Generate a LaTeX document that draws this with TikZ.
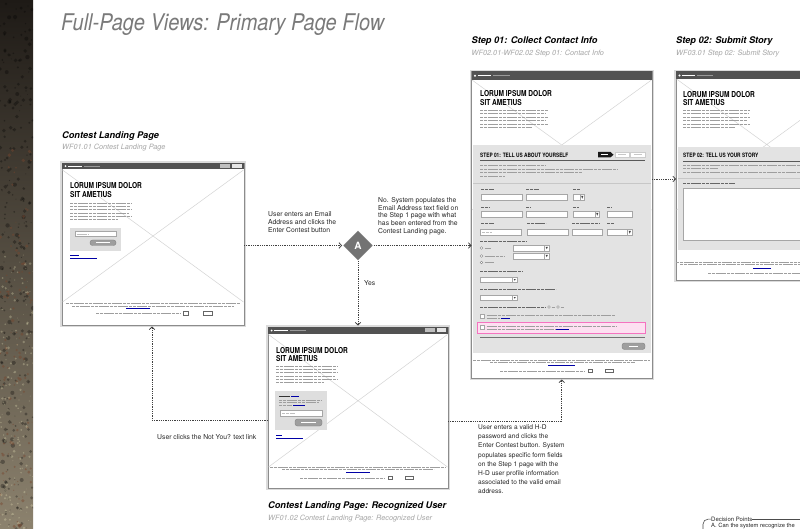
\documentclass[tikz,border=0pt]{standalone}
\usepackage{fontspec}
\setmainfont{TeX Gyre Heros}
\newfontfamily\condfont[FakeStretch=0.8]{TeX Gyre Heros}
\newfontfamily\titlefont[FakeStretch=0.87]{TeX Gyre Heros}
\usetikzlibrary{arrows.meta,shapes.geometric}
\definecolor{stripA}{RGB}{30,26,22}
\definecolor{stripB}{RGB}{80,77,68}
\definecolor{stripC}{RGB}{140,130,110}
\definecolor{rust}{RGB}{120,70,45}
\newcommand\ddbox[4]{%
  \draw[fld] (#1,#2) rectangle (#3,#4);
  \draw[fld] (#3-4.5,#2) rectangle (#3,#4);
  \fill[black!75] (#3-3.3,#2+2) -- (#3-1.2,#2+2) -- (#3-2.25,#4-1.8) -- cycle;}
\begin{document}
\begin{tikzpicture}[x=1pt,y=-1pt,
  wf/.style={draw=black!45, line width=0.6pt, fill=white, anchor=north west,
    inner sep=0pt, outer sep=0pt, preaction={draw=black!14, line width=3.2pt}},
  hdr/.style={fill=black!68},
  xl/.style={draw=black!17, line width=0.5pt},
  tl/.style={draw=black!38, line width=0.75pt, dash pattern=on 3.2pt off 0.6pt},
  tlw/.style={draw=white, line width=0.7pt},
  lk/.style={draw=blue!65!black, line width=0.6pt},
  fld/.style={draw=black!35, fill=white, line width=0.4pt},
  btn/.style={draw=black!50, fill=black!38, rounded corners=2.5pt, line width=0.4pt},
  hero/.style={font=\condfont\bfseries\fontsize{8.2}{8.7}\selectfont, anchor=north west,
    inner sep=0pt, align=left},
  steph/.style={font=\condfont\bfseries\fontsize{6}{7}\selectfont, anchor=north west, inner sep=0pt},
  pgh/.style={font=\bfseries\itshape\fontsize{9.2}{11}\selectfont, anchor=base west, inner sep=0pt},
  pgs/.style={font=\itshape\fontsize{7.3}{9}\selectfont, text=black!35, anchor=base west, inner sep=0pt},
  lbl/.style={font=\fontsize{6.8}{8.2}\selectfont, anchor=north west, inner sep=0pt, align=left, text=black!85},
  conn/.style={draw=black!75, line width=0.8pt, dash pattern=on 0.9pt off 0.9pt,
    -{Straight Barb[length=2.6pt,width=5.6pt]}},
  decn/.style={diamond, fill=black!55, draw=white, line width=0.8pt, minimum width=31pt,
    minimum height=31pt, inner sep=0pt, text=white, font=\bfseries\fontsize{10}{12}\selectfont}]
\useasboundingbox (0,0) rectangle (800,529);
\clip (0,0) rectangle (800,529);
\fill[white] (0,0) rectangle (800,529);
% ---------- textured strip ----------
\begin{scope}
  \clip (0,0) rectangle (33,529);
  \shade[top color=stripA, middle color=stripB, bottom color=stripC] (0,0) rectangle (33,529);
  \pgfmathsetseed{7}
  \foreach \i in {1,...,260}{
    \pgfmathsetmacro\xx{rnd*33}\pgfmathsetmacro\yy{rnd*529}\pgfmathsetmacro\rr{0.4+rnd*1.8}
    \fill[black, opacity=0.3] (\xx,\yy) circle (\rr);}
  \foreach \i in {1,...,120}{
    \pgfmathsetmacro\xx{rnd*33}\pgfmathsetmacro\yy{150+rnd*379}\pgfmathsetmacro\rr{0.4+rnd*1.5}
    \fill[rust, opacity=0.45] (\xx,\yy) circle (\rr);}
  \foreach \i in {1,...,160}{
    \pgfmathsetmacro\xx{rnd*33}\pgfmathsetmacro\yy{250+rnd*279}\pgfmathsetmacro\rr{0.3+rnd*1.2}
    \fill[white!80!yellow, opacity=0.25] (\xx,\yy) circle (\rr);}
\end{scope}
% ---------- title ----------
\node[font=\titlefont\itshape\fontsize{23}{26}\selectfont, text=black!52, anchor=base west, inner sep=0pt]
  (title) at (61,30.7) {Full-Page Views: Primary Page Flow};
% ---------- headings ----------
\node[pgh] (h1) at (62,138.5) {Contest Landing Page};
\node[pgs] (s1) at (62,149.5) {WF01.01 Contest Landing Page};
\node[pgh] (h2) at (471.5,44) {Step 01: Collect Contact Info};
\node[pgs] (s2) at (471.5,55.7) {WF02.01-WF02.02 Step 01: Contact Info};
\node[pgh] (h3) at (676,44) {Step 02: Submit Story};
\node[pgs] (s3) at (676,55.7) {WF03.01 Step 02: Submit Story};
\node[pgh] (h4) at (268,508.5) {Contest Landing Page: Recognized User};
\node[pgs] (s4) at (268,520) {WF01.02 Contest Landing Page: Recognized User};
% ================= WF1 : landing =================
\node[wf, minimum width=182pt, minimum height=162pt] (wf1) at (62,163) {};
\draw[xl] (62.5,170) -- (243.5,302) (243.5,170) -- (62.5,302);
\fill[hdr] (62,163) rectangle (244,169.5);
\fill[white] (65.5,166.2) circle (1);
\draw[tlw] (68,166.2) -- (82,166.2); \draw[draw=black!40,line width=0.6pt] (84,166.2) -- (100,166.2);
\fill[black!25] (220,164.4) rectangle (230,168.2); \fill[black!10] (231.5,164.4) rectangle (242,168.2);
\node[hero] (t1) at (70,182.7) {LORUM IPSUM DOLOR\\SIT AMETIUS};
\foreach \y/\e in {203/131,206.3/130,209.6/131,212.9/129,216.2/131,219.4/118}{\draw[tl] (70,\y) -- (\e,\y);}
\fill[black!13] (70,228) rectangle (121,251);
\draw[fld] (75,231.5) rectangle (116,236.5); \draw[tl,draw=black!25] (76.5,234) -- (88,234);
\draw[btn] (90,240) rectangle (116,245.5); \draw[tlw] (96,242.8) -- (110,242.8);
\draw[lk] (70,255.5) -- (79,255.5) (70,258.5) -- (97,258.5);
\draw[tl] (66,303.5) -- (240,303.5) (72,306) -- (234,306) (96,313.5) -- (180,313.5);
\draw[lk] (126,308.5) -- (150,308.5);
\draw[black!60,line width=0.4pt] (183,311.5) rectangle (188,315) (203,311.5) rectangle (212,315);
% ================= WF2 : step 01 =================
\node[wf, minimum width=180.5pt, minimum height=306.5pt] (wf2) at (471.5,71.5) {};
\draw[xl] (472,80) -- (651.5,210) (651.5,80) -- (472,210);
\fill[hdr] (471.5,71.5) rectangle (652,80);
\fill[white] (475,75.8) circle (1.1);
\draw[tlw] (477.5,75.8) -- (491,75.8); \draw[draw=black!40,line width=0.6pt] (493,75.8) -- (510,75.8);
\node[hero] (t2) at (480,90.5) {LORUM IPSUM DOLOR\\SIT AMETIUS};
\foreach \y/\e in {110/548,113.5/546,117/548,120.5/545,124/548,127.5/532}{\draw[tl] (480,\y) -- (\e,\y);}
\fill[black!11] (473,145) rectangle (650.5,353);
\node[steph] (st1) at (480,153) {STEP 01: TELL US ABOUT YOURSELF};
\fill[black!90] (598,152) -- (610.5,152) -- (613.5,154.7) -- (610.5,157.4) -- (598,157.4) -- cycle;
\draw[tlw,line width=0.6pt] (600.5,154.7) -- (608,154.7);
\draw[black!20,fill=white,line width=0.4pt] (615,152.3) rectangle (629,157.2) (630.5,152.3) rectangle (645,157.2);
\draw[draw=black!22,line width=0.6pt] (618,154.7) -- (626,154.7) (633.5,154.7) -- (642,154.7);
\draw[black!65,line width=0.8pt] (480,160.8) -- (645,160.8);
\draw[tl] (480,165) -- (545,165) (480,169.5) -- (617,169.5) (480,172) -- (582,172) (480,176.5) -- (505,176.5);
\draw[black!22,line width=0.5pt] (473,183) -- (650.5,183);
% row 1
\draw[tl,draw=black!60] (481,189) -- (494,189) (526,189) -- (539,189) (573,189) -- (580,189);
\draw[fld] (481,194) rectangle (522,200.5); \draw[fld] (526,194) rectangle (567,200.5);
\ddbox{573}{194}{584.5}{200.5}
% row 2
\draw[tl,draw=black!60] (481,207) -- (490,207) (526,207) -- (530,207) (573,207) -- (579,207) (607,207) -- (611,207);
\draw[fld] (481,211) rectangle (522,217.5); \draw[fld] (526,211) rectangle (567,217.5);
\ddbox{573}{211}{599.5}{217.5}
\draw[fld] (607,211) rectangle (632,217.5);
% row 3
\draw[tl,draw=black!60] (481,223) -- (494,223) (527,223) -- (546,223) (572,223) -- (600,223) (607,223) -- (614,223);
\draw[fld] (480,229) rectangle (521,235.5); \draw[tl,draw=black!25] (482,232.2) -- (492,232.2);
\draw[fld] (527,229) rectangle (568,235.5); \draw[fld] (572,229) rectangle (602,235.5);
\ddbox{607}{229}{632}{235.5}
% questions
\draw[tl,draw=black!60] (480,241) -- (526,241);
\foreach \y/\e in {248/491,256/504,262.5/494}{
  \draw[black!50,fill=white,line width=0.4pt] (481.5,\y) circle (1.3);
  \draw[tl] (484.5,\y) -- (\e,\y);}
\ddbox{513}{245}{549}{251}
\ddbox{513}{253}{549}{259}
\draw[tl,draw=black!60] (480,271) -- (522,271);
\ddbox{480}{277}{517}{282.5}
\draw[tl,draw=black!60] (480,289) -- (556,289);
\ddbox{480}{295}{517}{300.5}
\draw[tl,draw=black!60] (480,307) -- (546,307);
\draw[black!50,fill=white,line width=0.4pt] (549,307) circle (1.3) (558,307) circle (1.3);
\draw[tl] (551.5,307) -- (555,307) (560.5,307) -- (564,307);
\draw[fld] (480,313.8) rectangle (484.2,318);
\draw[tl] (486.5,315) -- (615,315) (486.5,318.5) -- (500,318.5); \draw[lk] (500.5,318.5) -- (510,318.5);
\draw[magenta!55,fill=magenta!12,line width=0.5pt] (477,322) rectangle (645,333);
\draw[fld] (480,325.2) rectangle (484.2,329.4);
\draw[tl] (486.5,326) -- (617,326) (486.5,329.5) -- (555,329.5); \draw[lk] (556,329.5) -- (569,329.5);
\draw[black!55,line width=0.8pt] (480,337) -- (645,337);
\draw[btn] (622,343) rectangle (645,349.5); \draw[tlw] (629,346.2) -- (638,346.2);
\draw[tl] (473,360) -- (650,360) (490,362.6) -- (635,362.6) (500,371) -- (585,371);
\draw[lk] (548,365.3) -- (575,365.3);
\draw[black!60,line width=0.4pt] (588,369) rectangle (592,372.5) (605,369) rectangle (613,372.5);
% ================= WF3 : step 02 =================
\node[wf, minimum width=181pt, minimum height=208.5pt] (wf3) at (676,71.5) {};
\draw[xl] (676.5,79) -- (857,210) (857,79) -- (676.5,210);
\fill[hdr] (676,71.5) rectangle (857,79.5);
\fill[white] (679.5,75.5) circle (1.1);
\draw[tlw] (682,75.5) -- (695,75.5); \draw[draw=black!40,line width=0.6pt] (697,75.5) -- (713,75.5);
\node[hero] (t3) at (683,91) {LORUM IPSUM DOLOR\\SIT AMETIUS};
\foreach \y/\e in {110/750,113.5/748,117/750,120.5/747,124/750,127.5/735}{\draw[tl] (683,\y) -- (\e,\y);}
\fill[black!11] (678,147) rectangle (857,250);
\node[steph] (st2) at (683,153) {STEP 02: TELL US YOUR STORY};
\draw[black!65,line width=0.8pt] (683,161) -- (857,161);
\draw[tl] (683,165.5) -- (800,165.5) (683,168) -- (718,168) (683,172.5) -- (800,172.5);
\draw[black!22,line width=0.5pt] (678,178) -- (857,178);
\draw[tl,draw=black!60] (683,183.5) -- (735,183.5);
\draw[fld] (683,188) rectangle (857,240);
\draw[tl] (676,262) -- (800,262) (680,264.6) -- (800,264.6) (708,273) -- (800,273);
\draw[lk] (753,268) -- (771,268);
% ================= WF4 : recognized =================
\node[wf, minimum width=180pt, minimum height=161pt] (wf4) at (268,327) {};
\draw[xl] (268.5,334.5) -- (447.5,467) (447.5,334.5) -- (268.5,467);
\fill[hdr] (268,327) rectangle (448,334);
\fill[white] (271.5,330.5) circle (1);
\draw[tlw] (274,330.5) -- (288,330.5); \draw[draw=black!40,line width=0.6pt] (290,330.5) -- (306,330.5);
\fill[black!25] (425,328.4) rectangle (435,332.3); \fill[black!10] (436.5,328.4) rectangle (446,332.3);
\node[hero] (t4) at (276,347) {LORUM IPSUM DOLOR\\SIT AMETIUS};
\foreach \y/\e in {366/337,369.3/336,372.6/337,375.9/335,379.2/337,382.5/324}{\draw[tl] (276,\y) -- (\e,\y);}
\fill[black!13] (275,391) rectangle (327,430);
\draw[black!80,line width=0.6pt] (279,396.5) -- (290,396.5); \draw[lk] (291,396.5) -- (299,396.5);
\draw[tl] (279,400) -- (322,400) (279,402.5) -- (319,402.5) (279,405) -- (292,405);
\draw[lk] (293,405) -- (305,405);
\draw[fld] (280,410) rectangle (322,416.5); \draw[tl,draw=black!25] (282,413.2) -- (295,413.2);
\draw[btn] (295,419) rectangle (322,426); \draw[tlw] (301,422.5) -- (316,422.5);
\draw[lk] (276,435.5) -- (282,435.5) (276,438.5) -- (303,438.5);
\draw[tl] (270,467) -- (446,467) (282,469.5) -- (434,469.5) (300,478) -- (385,478);
\draw[lk] (346,472) -- (370,472);
\draw[black!60,line width=0.4pt] (388,476) rectangle (392,479.5) (405,476) rectangle (413,479.5);
% ================= decision + connectors =================
\node[decn] (dec) at (358,245.5) {A};
\draw[conn] (dec.west -| wf1.east) -- (dec.west);
\draw[conn] (dec.east) -- (dec.east -| wf2.west);
\draw[conn, shorten >=1.5pt] (dec.south) -- (dec.south |- wf4.north);
\coordinate (nyL) at (152,420);
\draw[conn, shorten >=1.5pt] (wf4.west |- nyL) -- (nyL) -- (nyL |- wf1.south);
\coordinate (ryR) at (561.75,421.5);
\draw[conn, shorten >=1.5pt] (wf4.east |- ryR) -- (ryR) -- (ryR |- wf2.south);
\coordinate (s12) at (652,179);
\draw[conn] (wf2.east |- s12) -- (wf3.west |- s12);
% ---------- labels ----------
\node[lbl] (l1) at (268,211) {User enters an Email\\Address and clicks the\\Enter Contest button};
\node[lbl, font=\fontsize{6.8}{7.6}\selectfont] (l2) at (378,197.5) {No. System populates the\\Email Address text field on\\the Step 1 page with what\\has been entered from the\\Contest Landing page.};
\node[lbl, anchor=west] (yes) at (364,283) {Yes};
\node[lbl, anchor=west] (l3) at (157,437) {User clicks the Not You? text link};
\node[lbl, font=\fontsize{6.6}{9.2}\selectfont] (l4) at (478,424.5) {User enters a valid H-D\\password and clicks the\\Enter Contest button. System\\populates specific form fields\\on the Step 1 page with the\\H-D user profile information\\associated to the valid email\\address.};
% ---------- decision points legend ----------
\node[font=\fontsize{6}{7}\selectfont, text=black!85, anchor=base west, inner sep=0pt] (dp) at (711,521.3) {Decision Points};
\draw[black!70, line width=0.6pt, rounded corners=5pt] (703,535) |- (dp.west);
\draw[black!70, line width=0.6pt] (dp.east) -- (801,519.3 -| dp.east) -- (801,519.3);
\node[font=\fontsize{5.8}{7}\selectfont, text=black!85, anchor=base west, inner sep=0pt] (dpa) at (711,527) {A. Can the system recognize the};
\end{tikzpicture}
\end{document}
